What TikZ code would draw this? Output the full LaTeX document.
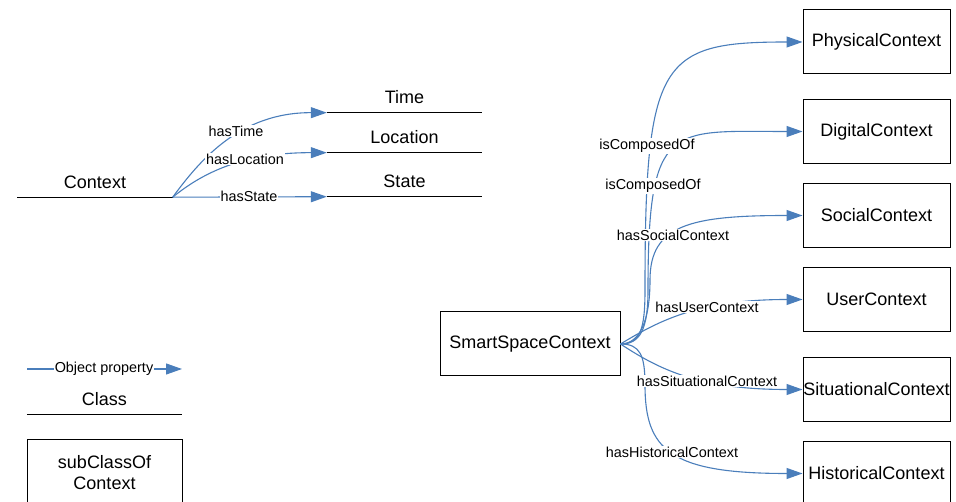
\documentclass[tikz,border=0pt]{standalone}
\usepackage{fontspec}
\setmainfont{Liberation Sans}
\usetikzlibrary{arrows.meta}
\definecolor{propblue}{RGB}{74,126,187}

\begin{document}
\begin{tikzpicture}[x=1pt,y=-1pt,
  cls/.style={minimum width=155pt,minimum height=30pt,inner sep=0pt,font=\fontsize{18}{21}\selectfont},
  bar/.style={line width=1pt},
  box/.style={draw,line width=1pt,minimum width=147pt,minimum height=64pt,inner sep=0pt,font=\fontsize{18}{21}\selectfont},
  prop/.style={draw=propblue,line width=1.1pt,-{Triangle[length=16pt,width=11pt]}},
  lbl/.style={fill=white,inner sep=1pt,font=\fontsize{14.4}{16}\selectfont}]
\useasboundingbox (0,0) rectangle (956,502);

% Context and its parts
\node[cls] (ctx) at (95,182) {Context};
\node[cls] (time) at (404.5,97.5) {Time};
\node[cls] (loc) at (404.5,137.5) {Location};
\node[cls] (state) at (404.5,181.5) {State};
\foreach \n in {ctx,time,loc,state} \draw[bar] (\n.south west) -- (\n.south east);

\draw[prop] (ctx.south east) .. controls (200,160) and (240,112.5) .. (time.south west);
\draw[prop] (ctx.south east) .. controls (200,175) and (240,152.5) .. (loc.south west);
\draw[prop] (ctx.south east) -- (state.south west);

\node[lbl] (lt) at (236,131) {hasTime};
\node[lbl] (ll) at (245,159) {hasLocation};
\node[lbl] (ls) at (249,196) {hasState};

% SmartSpaceContext
\node[box,minimum width=180pt] (ssc) at (530,344) {SmartSpaceContext};
\node[box] (phys) at (876.5,42) {PhysicalContext};
\node[box] (dig) at (876.5,131.5) {DigitalContext};
\node[box] (soc) at (876.5,215.5) {SocialContext};
\node[box] (user) at (876.5,299.5) {UserContext};
\node[box] (sit) at (876.5,389.5) {SituationalContext};
\node[box] (hist) at (876.5,473.5) {HistoricalContext};

\draw[prop] (ssc.east) .. controls (640,344) and (645,330) .. (645,290)
  .. controls (645,60) and (660,42) .. (phys.west);
\draw[prop] (ssc.east) .. controls (640,344) and (648,330) .. (648,290)
  .. controls (648,120) and (670,131.5) .. (dig.west);
\draw[prop] (ssc.east) .. controls (640,344) and (650,320) .. (650,280)
  .. controls (650,225) and (690,215.5) .. (soc.west);
\draw[prop] (ssc.east) .. controls (660,320) and (700,299.5) .. (user.west);
\draw[prop] (ssc.east) .. controls (660,370) and (700,389.5) .. (sit.west);
\draw[prop] (ssc.east) .. controls (640,344) and (645,355) .. (645,385)
  .. controls (645,450) and (670,473.5) .. (hist.west);

\node[lbl] (lp) at (647,146) {isComposedOf};
\node[lbl] (ld) at (653,186) {isComposedOf};
\node[lbl] (lso) at (673,235) {hasSocialContext};
\node[lbl] (lu) at (707,307) {hasUserContext};
\node[lbl] (lsi) at (707,381) {hasSituationalContext};
\node[lbl] (lh) at (672,452) {hasHistoricalContext};

% legend
\coordinate (opa) at (27,369);
\coordinate (opb) at (182,369);
\draw[prop] (opa) -- (opb);
\node[lbl] (op) at (104,369) {Object property};
\node[cls] (cls) at (104.5,399.5) {Class};
\draw[bar] (cls.south west) -- (cls.south east);
\node[box,minimum width=155pt,minimum height=65pt,align=center] (sub) at (104.5,472.5) {subClassOf\\Context};
\end{tikzpicture}
\end{document}
